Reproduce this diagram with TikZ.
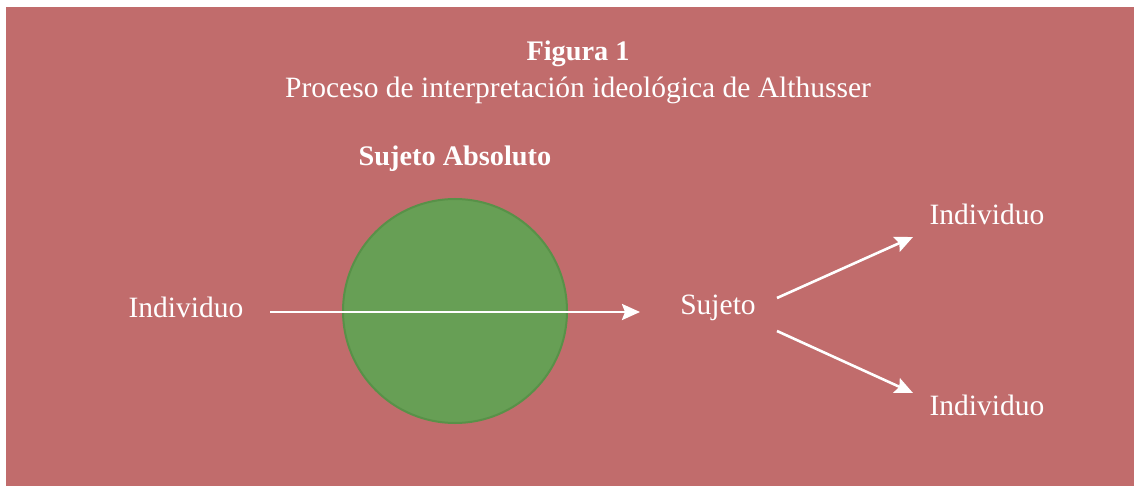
\documentclass[tikz,border=0pt]{standalone}
\usepackage{fontspec}
\setmainfont{Liberation Serif}
\usetikzlibrary{arrows.meta}
\definecolor{fondo}{RGB}{193,108,108}
\definecolor{verde}{RGB}{103,159,85}
\definecolor{verdeborde}{RGB}{88,145,72}

\begin{document}
\begin{tikzpicture}[x=1pt,y=-1pt,
  every node/.style={text=white,anchor=base,inner sep=0pt,font=\fontsize{29.5}{34}\selectfont},
  negrita/.style={font=\fontsize{28.3}{34}\selectfont\bfseries},
  flecha/.style={draw=white,line width=2.6pt,-{Stealth[length=18pt,width=16pt,inset=3pt]}}]
\useasboundingbox (0,0) rectangle (1134,486);
\fill[white] (0,0) rectangle (1134,486);
\fill[fondo] (6,7) rectangle (1134,486);
% titulo
\node[negrita] (fig) at (578,61) {Figura 1};
\node (tit) at (578,98) {Proceso de interpretación ideológica de Althusser};
% sujeto absoluto
\node[negrita] (abs) at (455,166) {Sujeto Absoluto};
\node[circle,anchor=center,fill=verde,draw=verdeborde,line width=2pt,minimum size=224pt] (sol) at (455,311) {};
% individuos y sujeto
\node (ind) at (186,317) {Individuo};
\node (suj) at (718,314) {Sujeto};
\node (indA) at (987,225) {Individuo};
\node (indB) at (987,415) {Individuo};
\coordinate (a0) at (270,312);
\coordinate (a1) at (640,312);
\coordinate (b0) at (777,298);
\coordinate (b1) at (913,237);
\coordinate (c0) at (777,331);
\coordinate (c1) at (913,393);
\draw[flecha] (a0) -- (a1);
\draw[flecha] (b0) -- (b1);
\draw[flecha] (c0) -- (c1);
\end{tikzpicture}
\end{document}
